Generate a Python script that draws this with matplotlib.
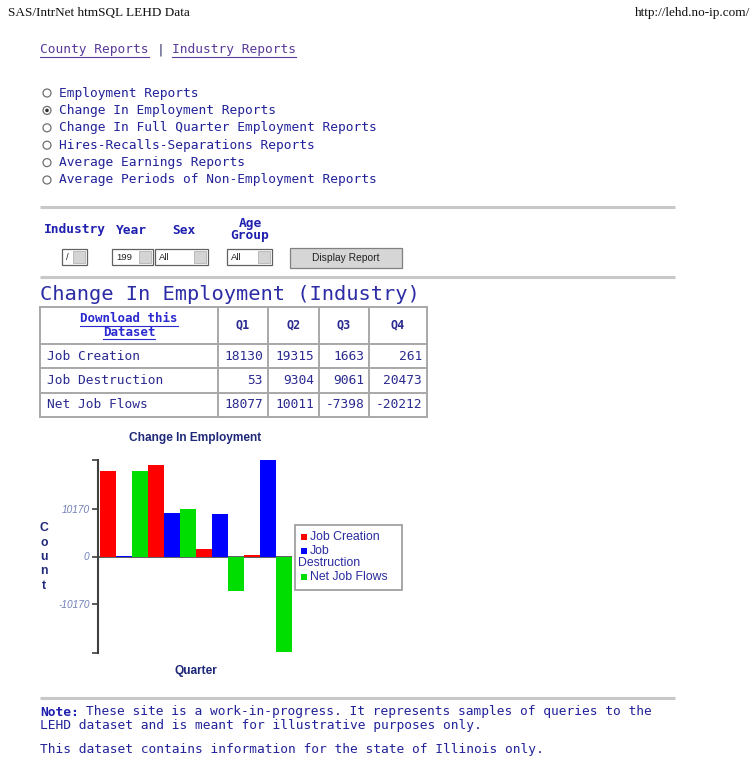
import matplotlib
matplotlib.use('Agg')
import matplotlib.pyplot as plt
from matplotlib.patches import Rectangle, Circle
import numpy as np

# Datos de la tabla / grafico
quarters = ['Q1', 'Q2', 'Q3', 'Q4']
series_names = ['Job Creation', 'Job Destruction', 'Net Job Flows']
job_creation = [18130, 19315, 1663, 261]
job_destruction = [53, 9304, 9061, 20473]
net_job_flows = [18077, 10011, -7398, -20212]
y_tick_values = [-10170, 0, 10170]

report_options = ['Employment Reports',
                  'Change In Employment Reports',
                  'Change In Full Quarter Employment Reports',
                  'Hires-Recalls-Separations Reports',
                  'Average Earnings Reports',
                  'Average Periods of Non-Employment Reports']
selected_option = 1

form_labels = ['Industry', 'Year', 'Sex', 'Age\nGroup']
form_values = ['/', '199', 'All', 'All']

series_colors = ['#ff0000', '#0000ff', '#00dd00']
MONO = 'DejaVu Sans Mono'
SANS = 'Liberation Sans'
NAVY = '#22229a'
CHART_NAVY = '#1e2878'
W, H = 754, 761
CHAR_W = 7.75  # ancho de un caracter mono en px

fig = plt.figure(figsize=(W / 100, H / 100), dpi=100)
page = fig.add_axes([0, 0, 1, 1])
page.set_xlim(0, W)
page.set_ylim(H, 0)
page.axis('off')


def link(x, y, s, color, size=9.3, weight='normal', ha='left'):
    page.text(x, y, s, family=MONO, fontsize=size, color=color, weight=weight,
              ha=ha, va='center')
    width = len(s) * size / 72 * 100 * 0.602
    x0 = x - width / 2 if ha == 'center' else x
    page.plot([x0, x0 + width], [y + 6.5, y + 6.5], color=color, lw=0.8)


def rule(y):
    page.plot([40, 675], [y, y], color='#c8c8c8', lw=2.2, solid_capstyle='butt')


# Cabecera
page.text(8, 13, 'SAS/IntrNet htmSQL LEHD Data', family='Liberation Serif',
          fontsize=9.5, va='center', color='#111111')
page.text(750, 13, 'http://lehd.no-ip.com/', family='Liberation Serif',
          fontsize=9.5, va='center', ha='right', color='#111111')

link(40, 50, 'County Reports', '#5a3a9a')
page.text(40 + 15 * CHAR_W, 50, '|', family=MONO, fontsize=9.3, va='center',
          color='#333366')
link(40 + 17 * CHAR_W, 50, 'Industry Reports', '#5a3a9a')

# Radio buttons
for i, opt in enumerate(report_options):
    y = 93 + i * 17.4
    page.add_patch(Circle((47, y), 4, facecolor='white', edgecolor='#707070', lw=0.9))
    if i == selected_option:
        page.add_patch(Circle((47, y), 1.8, facecolor='#303030', edgecolor='none'))
    page.text(59, y, opt, family=MONO, fontsize=9.3, color=NAVY, va='center')

rule(207)

# Formulario
label_x = [44, 116, 172, 250]
for lab, lx in zip(form_labels, label_x):
    if '\n' in lab:
        top, bottom = lab.split('\n')
        page.text(lx, 223, top, family=MONO, fontsize=9.3, weight='bold',
                  color='#1f1fb0', ha='center', va='center')
        page.text(lx, 236, bottom, family=MONO, fontsize=9.3, weight='bold',
                  color='#1f1fb0', ha='center', va='center')
    else:
        page.text(lx, 230, lab, family=MONO, fontsize=9.3, weight='bold',
                  color='#1f1fb0', va='center')

select_x = [(62, 87), (112, 153), (155, 208), (227, 272)]
for (x0, x1), val in zip(select_x, form_values):
    page.add_patch(Rectangle((x0, 249), x1 - x0, 16, facecolor='white',
                             edgecolor='#606060', lw=0.9))
    page.add_patch(Rectangle((x1 - 14, 251), 12, 12, facecolor='#d4d4d4',
                             edgecolor='#a8a8a8', lw=0.5))
    page.text(x0 + 4, 257.5, val, family=SANS, fontsize=6.8, va='center',
              color='#222222')

page.add_patch(Rectangle((290, 248), 112, 20, facecolor='#d6d6d6',
                         edgecolor='#808080', lw=0.9))
page.text(346, 258, 'Display Report', family=SANS, fontsize=7.4, ha='center',
          va='center', color='#222222')

rule(277)

# Titulo de la tabla
page.text(40, 295, 'Change In Employment (Industry)', family=MONO,
          fontsize=14.7, color='#2c2ca4', va='center')

# Tabla
col_x = [40, 218, 268, 319, 369, 427]
row_y = [307, 344, 368, 393, 417]
for cx in col_x:
    page.plot([cx, cx], [row_y[0], row_y[-1]], color='#a8a8a8', lw=1.4)
for ry in row_y:
    page.plot([col_x[0], col_x[-1]], [ry, ry], color='#a8a8a8', lw=1.4)

link(129, 319, 'Download this', '#2a2ad0', size=9, weight='bold', ha='center')
link(129, 332, 'Dataset', '#2a2ad0', size=9, weight='bold', ha='center')
for j, q in enumerate(quarters):
    page.text((col_x[j + 1] + col_x[j + 2]) / 2, 325, q, family=MONO,
              fontsize=8.5, weight='bold', color='#2a2a90', ha='center', va='center')

table_rows = [job_creation, job_destruction, net_job_flows]
for i, (name, vals) in enumerate(zip(series_names, table_rows)):
    yc = (row_y[i + 1] + row_y[i + 2]) / 2
    page.text(47, yc, name, family=MONO, fontsize=9.3, color='#2a2a90', va='center')
    for j, v in enumerate(vals):
        page.text(col_x[j + 2] - 5, yc, str(v), family=MONO, fontsize=9.3,
                  color='#2a2a90', ha='right', va='center')

# Grafico de barras
ax = fig.add_axes([98 / W, 1 - 653 / H, (292 - 98) / W, (653 - 460) / H])
ax.patch.set_alpha(0)
values = [job_creation, job_destruction, net_job_flows]
bw = 1 / len(values)
x = np.arange(len(quarters))
for k, (vals, col) in enumerate(zip(values, series_colors)):
    ax.bar(x + k * bw, vals, width=bw, align='edge', color=col, zorder=2)
ymax = max(abs(v) for vals in values for v in vals)
ax.set_ylim(-ymax, ymax)
ax.set_xlim(-0.04, len(quarters))
ax.axhline(0, color='#505050', lw=1.3, zorder=1)
for s in ['top', 'right', 'bottom']:
    ax.spines[s].set_visible(False)
ax.spines['left'].set_color('#404040')
ax.spines['left'].set_linewidth(1.5)
ax.set_xticks([])
ax.set_yticks([-ymax] + y_tick_values + [ymax])
ax.set_yticklabels([''] + [str(v) for v in y_tick_values] + [''])
ax.tick_params(axis='y', direction='out', length=4, width=1.2, color='#404040',
               labelsize=7.3, labelcolor='#7080b8', pad=2)
for lbl in ax.get_yticklabels():
    lbl.set_fontstyle('italic')
    lbl.set_family(SANS)

page.text(195, 438, 'Change In Employment', family=SANS, fontsize=8.6,
          weight='bold', color=CHART_NAVY, ha='center', va='center')
for i, ch in enumerate('Count'):
    page.text(44, 528 + i * 14.5, ch, family=SANS, fontsize=8.8, weight='bold',
              color=CHART_NAVY, ha='center', va='center')
page.text(196, 671, 'Quarter', family=SANS, fontsize=8.6, weight='bold',
          color=CHART_NAVY, ha='center', va='center')

# Leyenda
page.add_patch(Rectangle((295, 525), 107, 65, facecolor='white',
                         edgecolor='#a0a0a0', lw=1.3))
ly = 537
for name, col in zip(series_names, series_colors):
    page.add_patch(Rectangle((301, ly - 3), 6, 6, facecolor=col, edgecolor='none'))
    words = name.split()
    if len(name) > 13:
        page.text(310, ly, words[0], family=SANS, fontsize=8.8, color='#2a2aa0', va='center')
        ly += 13
        page.text(298, ly, ' '.join(words[1:]), family=SANS, fontsize=8.8,
                  color='#2a2aa0', va='center')
    else:
        page.text(310, ly, name, family=SANS, fontsize=8.8, color='#2a2aa0', va='center')
    ly += 13.5

rule(698)

# Nota
page.text(40, 712, 'Note:', family=MONO, fontsize=9.3, weight='bold', color='#1f1fb0',
          va='center')
page.text(40 + 6 * CHAR_W, 712,
          'These site is a work-in-progress. It represents samples of queries to the',
          family=MONO, fontsize=9.3, color=NAVY, va='center')
page.text(40, 725, 'LEHD dataset and is meant for illustrative purposes only.',
          family=MONO, fontsize=9.3, color=NAVY, va='center')
page.text(40, 750, 'This dataset contains information for the state of Illinois only.',
          family=MONO, fontsize=9.3, color=NAVY, va='center')

fig.savefig('out.png', dpi=100)
